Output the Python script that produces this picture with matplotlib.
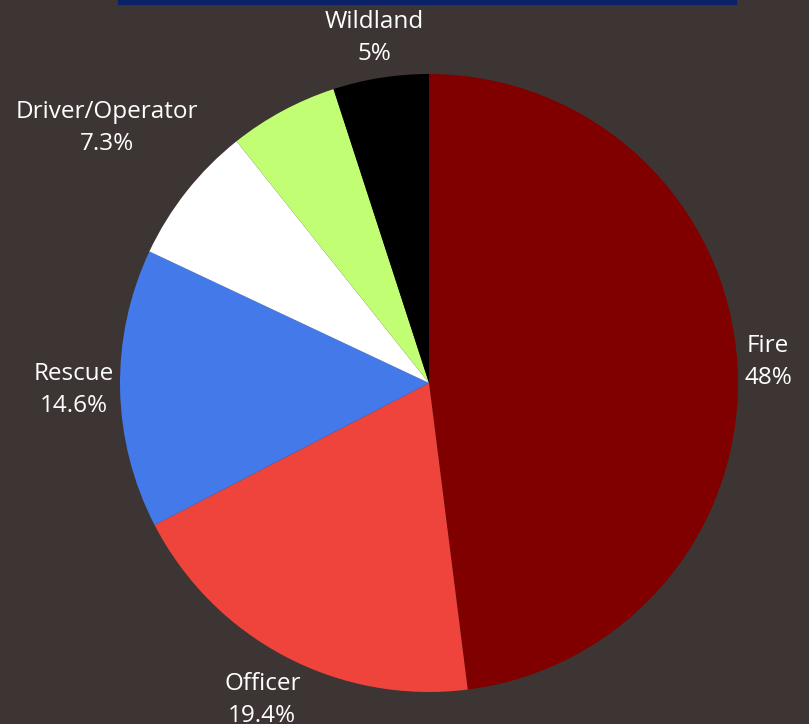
import numpy as np
import matplotlib.pyplot as plt
from matplotlib.patches import Rectangle

labels = ["Fire", "Officer", "Rescue", "Driver/Operator", "", "Wildland"]
pct_text = ["48%", "19.4%", "14.6%", "7.3%", "", "5%"]
values = [48, 19.4, 14.6, 7.3, 5.7, 5]
colors = ["#800000", "#ef443b", "#4479ea", "#ffffff", "#c1fe73", "#000000"]
label_dist = [1.10, 1.16, 1.15, 1.33, 1.1, 1.13]

bg = "#3c3533"
fig = plt.figure(figsize=(8.09, 7.24), dpi=100, facecolor=bg)
plt.rcParams['font.family'] = ['Open Sans', 'DejaVu Sans']

# navy strip at the top
fig.patches.append(Rectangle((118 / 809, 1 - 4 / 724), 618 / 809, 4 / 724,
                             transform=fig.transFigure, color="#0c2266", zorder=0))

ax = fig.add_axes([120 / 809, 32 / 724, 618 / 809, 618 / 724])
ax.set_facecolor(bg)
wedges, _ = ax.pie(values, colors=colors, startangle=90, counterclock=False,
                   radius=1, wedgeprops=dict(linewidth=0))
ax.set_xlim(-1, 1)
ax.set_ylim(-1, 1)
ax.set_aspect("equal")
ax.axis("off")

for w, lab, pc, d in zip(wedges, labels, pct_text, label_dist):
    if not lab:
        continue
    ang = np.deg2rad((w.theta1 + w.theta2) / 2)
    ax.text(d * np.cos(ang), d * np.sin(ang), lab + "\n" + pc,
            ha="center", va="center", color="white", fontsize=17.5,
            linespacing=1.45, clip_on=False)

fig.savefig("out.png", dpi=100, facecolor=bg)
